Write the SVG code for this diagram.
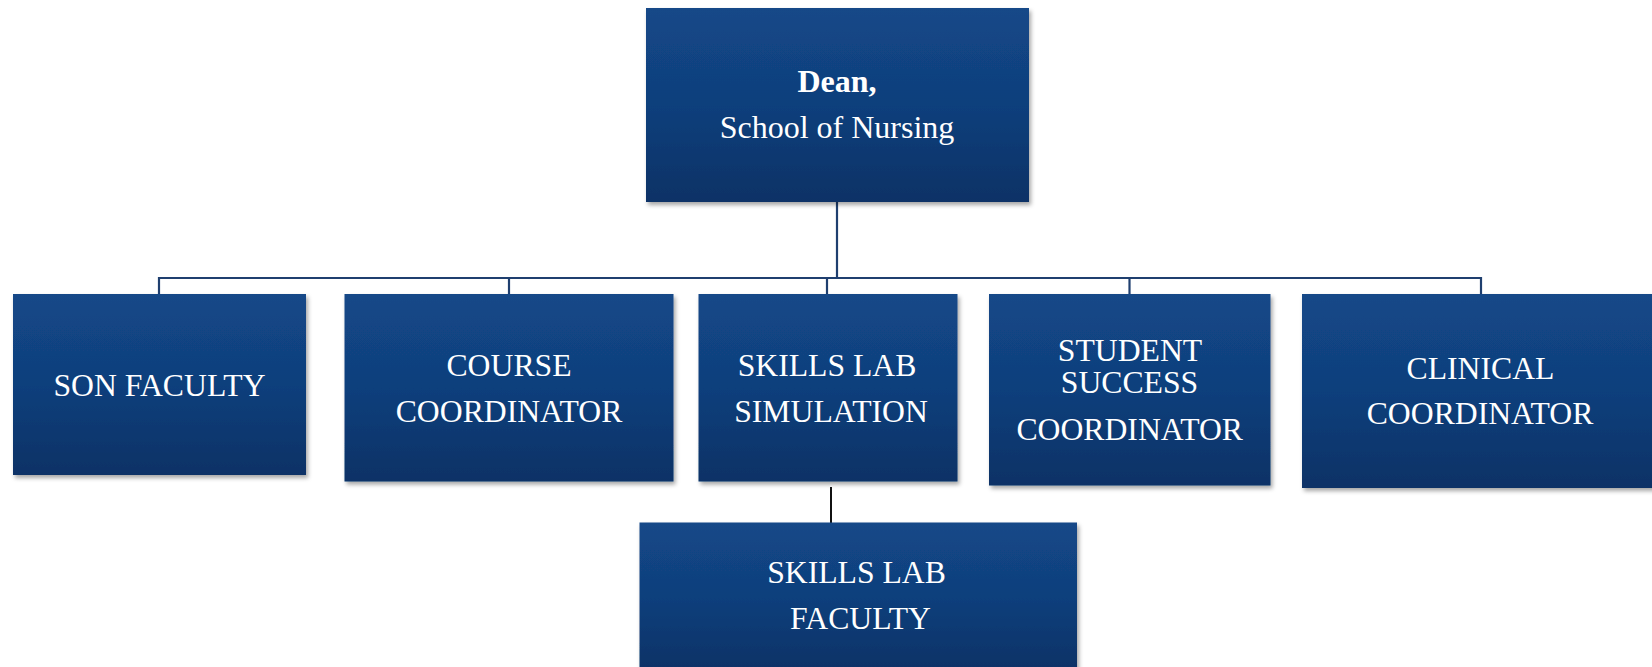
<svg xmlns="http://www.w3.org/2000/svg" width="1652" height="667" viewBox="0 0 1652 667">
  <defs>
    <linearGradient id="boxFill" x1="0" y1="0" x2="0" y2="1">
      <stop offset="0" stop-color="#134888"/>
      <stop offset="0.5" stop-color="#103f7c"/>
      <stop offset="1" stop-color="#0b3266"/>
    </linearGradient>
    <filter id="shadow" x="-5%" y="-5%" width="112%" height="115%">
      <feDropShadow dx="2" dy="3" stdDeviation="2" flood-color="#000" flood-opacity="0.35"/>
    </filter>
  </defs>
  <style>
    .box { fill: url(#boxFill); filter: url(#shadow); }
    .lbl { font-family: "Liberation Serif", "Times New Roman", serif; font-size: 31.7px; fill: #ffffff; text-anchor: middle; }
    .dean { font-size: 32px; }
    .bold { font-weight: bold; }
    .wire { fill: none; stroke: #1f3f6f; stroke-width: 2.2; }
    .wire2 { fill: none; stroke: #111111; stroke-width: 2; }
  </style>

  <rect width="1652" height="667" fill="#ffffff"/>

  <g id="connectors">
    <path class="wire" d="M837 202 V278"/>
    <path class="wire" d="M159 294 V278 H1481 V294"/>
    <path class="wire" d="M509 278 V294"/>
    <path class="wire" d="M827 278 V294"/>
    <path class="wire" d="M1129.5 278 V294"/>
    <path class="wire2" d="M831 487 V527"/>
  </g>

  <g id="dean">
    <rect class="box" x="646" y="8" width="383" height="194"/>
    <text class="lbl dean bold" x="837" y="91.5">Dean,</text>
    <text class="lbl dean" x="837" y="137.5">School of Nursing</text>
  </g>

  <g id="son-faculty">
    <rect class="box" x="13" y="294" width="293" height="181"/>
    <text class="lbl" x="159.5" y="395.5">SON FACULTY</text>
  </g>

  <g id="course-coordinator">
    <rect class="box" x="344.5" y="294" width="329" height="187.5"/>
    <text class="lbl" x="509" y="376">COURSE</text>
    <text class="lbl" x="509" y="421.5">COORDINATOR</text>
  </g>

  <g id="skills-lab-simulation">
    <rect class="box" x="698.5" y="294" width="259" height="187.5"/>
    <text class="lbl" x="827" y="375.5">SKILLS LAB</text>
    <text class="lbl" x="831" y="421.5">SIMULATION</text>
  </g>

  <g id="student-success-coordinator">
    <rect class="box" x="989" y="294" width="281.5" height="191.5"/>
    <text class="lbl" x="1130" y="361">STUDENT</text>
    <text class="lbl" x="1129.5" y="392.5">SUCCESS</text>
    <text class="lbl" x="1129.7" y="440">COORDINATOR</text>
  </g>

  <g id="clinical-coordinator">
    <rect class="box" x="1302" y="294" width="356" height="194"/>
    <text class="lbl" x="1480.5" y="378.5">CLINICAL</text>
    <text class="lbl" x="1480" y="424">COORDINATOR</text>
  </g>

  <g id="skills-lab-faculty">
    <rect class="box" x="639.5" y="522.5" width="437.5" height="150"/>
    <text class="lbl" x="856.5" y="582.5">SKILLS LAB</text>
    <text class="lbl" x="860.5" y="628.5">FACULTY</text>
  </g>
</svg>
